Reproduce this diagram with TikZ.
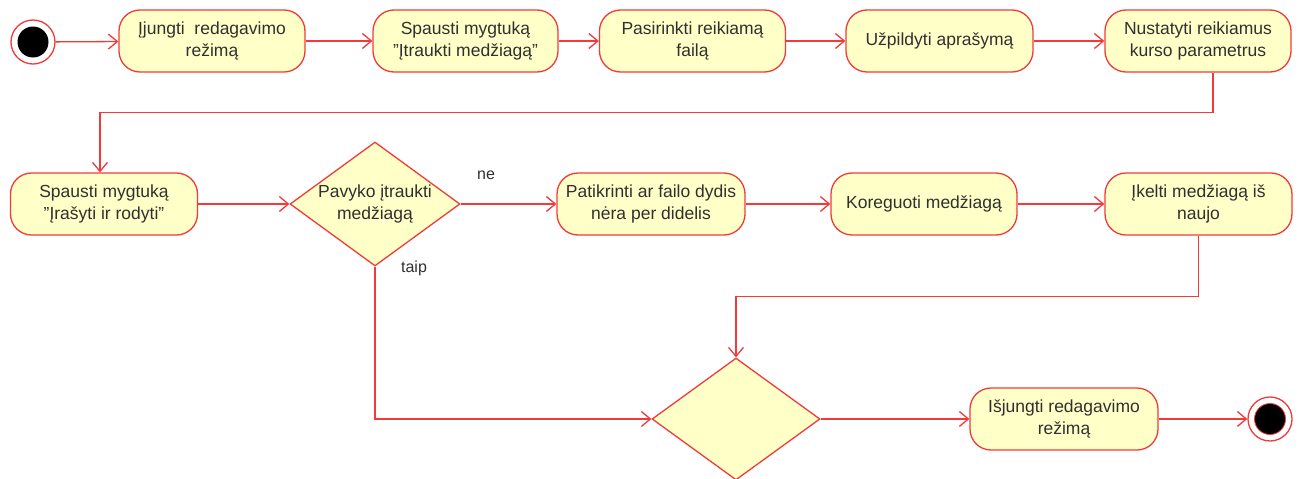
\documentclass[tikz,border=0pt]{standalone}
\usepackage{fontspec}
\setmainfont{Liberation Sans}
\usetikzlibrary{arrows.meta,shapes.geometric}
\definecolor{umlred}{HTML}{F23A3A}
\definecolor{umlfill}{HTML}{FFFFC8}
\definecolor{txt}{HTML}{303030}
\newcommand{\sq}{\symbol{34}}
\begin{document}
\begin{tikzpicture}[x=1pt,y=-1pt,
  act/.style={draw=umlred,fill=umlfill,line width=1.3pt,rounded corners=21pt,
    minimum height=62pt,inner sep=2pt,align=center,text=txt,
    font=\fontsize{17.5}{22}\selectfont},
  dec/.style={draw=umlred,fill=umlfill,line width=1.3pt,diamond,inner sep=0pt,
    align=center,text=txt,font=\fontsize{17.5}{22}\selectfont},
  flow/.style={draw=umlred,line width=1.3pt,-{Straight Barb[length=9pt,width=15pt,line width=1.3pt]}},
  lbl/.style={text=txt,font=\fontsize{16}{18}\selectfont}]
\useasboundingbox (0,0) rectangle (1299,479);
% start
\node[circle,draw=umlred,fill=white,line width=1.3pt,minimum size=44pt,inner sep=0pt] (start) at (33,42) {};
\node[circle,fill=black,minimum size=31pt,inner sep=0pt] at (start) {};
% row 1
\node[act,minimum width=186pt] (a1) at (212,41) {Įjungti\ \ redagavimo\\režimą};
\node[act,minimum width=185pt] (a2) at (465.5,41) {Spausti mygtuką\\\sq Įtraukti medžiagą\sq};
\node[act,minimum width=186pt] (a3) at (692.5,41) {Pasirinkti reikiamą\\failą};
\node[act,minimum width=187pt] (a4) at (939.5,41) {Užpildyti aprašymą};
\node[act,minimum width=186pt] (a5) at (1198,41) {Nustatyti reikiamus\\kurso parametrus};
% row 2
\node[act,minimum width=187pt] (b1) at (104,204) {Spausti mygtuką\\\sq Įrašyti ir rodyti\sq};
\node[dec,minimum width=170pt,minimum height=124pt] (d1) at (375,204) {};
\node[text=txt,font=\fontsize{17.5}{22}\selectfont,align=center] at (375,204) {Pavyko įtraukti\\medžiagą};
\node[act,minimum width=188pt] (b2) at (651,204) {Patikrinti ar failo dydis\\nėra per didelis};
\node[act,minimum width=186pt] (b3) at (924,204) {Koreguoti medžiagą};
\node[act,minimum width=187pt] (b4) at (1198.5,204) {Įkelti medžiagą iš\\naujo};
% row 3
\node[dec,minimum width=168pt,minimum height=122pt] (d2) at (736,419) {};
\node[act,minimum width=188pt] (c1) at (1064,419) {Išjungti redagavimo\\režimą};
\node[circle,draw=umlred,fill=white,line width=1.3pt,minimum size=44pt,inner sep=0pt] (end) at (1270,419) {};
\node[circle,fill=black,draw=umlred,line width=0.8pt,minimum size=31pt,inner sep=0pt] at (end) {};
% labels
\node[lbl] (ne) at (486,175) {ne};
\node[lbl] (taip) at (414,268) {taip};
% connectors
\draw[flow] (start) -- (a1);
\draw[flow] (a1) -- (a2);
\draw[flow] (a2) -- (a3);
\draw[flow] (a3) -- (a4);
\draw[flow] (a4) -- (a5);
\coordinate (a5out) at ([xshift=15pt]a5.south);
\coordinate (b1in) at ([xshift=-4pt]b1.north);
\draw[flow] (a5out) -- ++(0,40) -| (b1in);
\draw[flow] (b1) -- (d1);
\draw[flow] (d1) -- (b2);
\draw[flow] (b2) -- (b3);
\draw[flow] (b3) -- (b4);
\draw[flow] (b4.south) -- ++(0,61) -| (d2.north);
\draw[flow] (d1.south) |- (d2.west);
\draw[flow] (d2) -- (c1);
\draw[flow] (c1) -- (end);
\end{tikzpicture}
\end{document}
